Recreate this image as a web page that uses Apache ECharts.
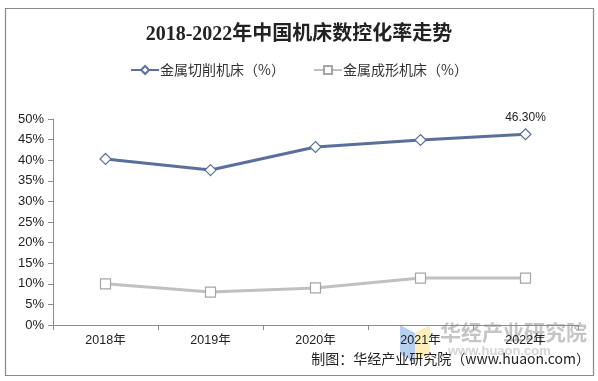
<!DOCTYPE html>
<html><head><meta charset="utf-8">
<script src="https://cdn.jsdelivr.net/npm/echarts@6/dist/echarts.min.js"></script>
<style>html,body{margin:0;padding:0;background:#fff}#c{width:598px;height:381px}</style>
</head><body><div id="c"></div>
<script>
const categories = ['2018年','2019年','2020年','2021年','2022年'];
const cuttingValues = [40.3, 37.6, 43.2, 44.9, 46.3];
const formingValues = [10.0, 8.0, 9.0, 11.4, 11.4];
const yTicks = [0,5,10,15,20,25,30,35,40,45,50];
const seriesNames = ['金属切削机床（%）','金属成形机床（%）'];

const chart = echarts.init(document.getElementById('c'), null, {renderer:'canvas'});
const latin = 'Liberation Sans, Arial, Noto Sans CJK SC, sans-serif';
chart.setOption({
  backgroundColor:'#fff',
  animation:false,
  title:{text:'2018-2022年中国机床数控化率走势', left:'center', top:20,
    textStyle:{fontFamily:'Liberation Serif, Noto Sans CJK SC, serif', fontSize:20, fontWeight:'bold', color:'#222'}},
  legend:{top:58, left:'center', itemGap:28, itemWidth:28, itemHeight:10,
    textStyle:{fontFamily:'Noto Sans CJK SC, sans-serif', fontSize:14, color:'#333', padding:[0,0,0,-4]},
    data:[seriesNames[0], seriesNames[1]]},
  grid:{left:53, right:20, top:119, bottom:56, containLabel:false},
  xAxis:{type:'category', data:categories, boundaryGap:true,
    axisLine:{lineStyle:{color:'#8c8c8c'}},
    axisTick:{show:true, length:5, alignWithLabel:false, lineStyle:{color:'#8c8c8c'}},
    axisLabel:{fontFamily:latin, fontSize:12.5, color:'#222', margin:9}},
  yAxis:{type:'value', min:0, max:50, interval:5,
    axisLine:{show:true, lineStyle:{color:'#8c8c8c'}},
    axisTick:{show:true, length:5, lineStyle:{color:'#8c8c8c'}},
    splitLine:{show:false},
    axisLabel:{fontFamily:latin, fontSize:13, color:'#222', margin:9,
      formatter:v=> yTicks.includes(v) ? v+'%' : ''}},
  series:[
    {name:seriesNames[0], type:'line', data:cuttingValues, symbol:'diamond', symbolSize:11,
      lineStyle:{color:'#5b6f9b', width:3}, itemStyle:{color:'#fff', borderColor:'#5b6f9b', borderWidth:1.2},
      label:{show:true, position:'top', distance:4, fontFamily:latin, fontSize:12, color:'#222',
        formatter:p=> p.dataIndex===cuttingValues.length-1 ? p.value.toFixed(2)+'%' : ''},
      z:3},
    {name:seriesNames[1], type:'line', data:formingValues, symbol:'rect', symbolSize:10,
      lineStyle:{color:'#c0c0c0', width:3}, itemStyle:{color:'#fff', borderColor:'#a6a6a6', borderWidth:1.2},
      z:2}
  ],
  graphic:[
    {type:'rect', shape:{x:5.5, y:8.5, width:588, height:367}, style:{fill:'none', stroke:'#888', lineWidth:1.2}, silent:true, z:-1},
    {type:'polygon', shape:{points:[[400,325],[415,333],[415,362],[400,354]]}, style:{fill:'rgba(120,170,230,0.55)'}, z:0},
    {type:'polygon', shape:{points:[[415,333],[430,325],[430,354],[415,362]]}, style:{fill:'rgba(250,225,130,0.55)'}, z:0},
    {type:'text', x:440, y:322, style:{text:'华经产业研究院', fontFamily:'Noto Sans CJK SC, sans-serif', fontWeight:'bold', fontSize:21, fill:'rgba(150,150,150,0.55)'}, z:0},
    {type:'text', x:448, y:345, style:{text:'www.huaon.com', fontFamily:latin, fontWeight:'bold', fontSize:13, fill:'rgba(160,160,160,0.45)'}, z:0},
    {type:'text', right:8, top:352, style:{text:'制图：华经产业研究院（www.huaon.com）', fontFamily:'Noto Sans CJK SC, sans-serif', fontSize:14, fill:'#222', align:'right'}, z:5}
  ]
});
</script></body></html>
